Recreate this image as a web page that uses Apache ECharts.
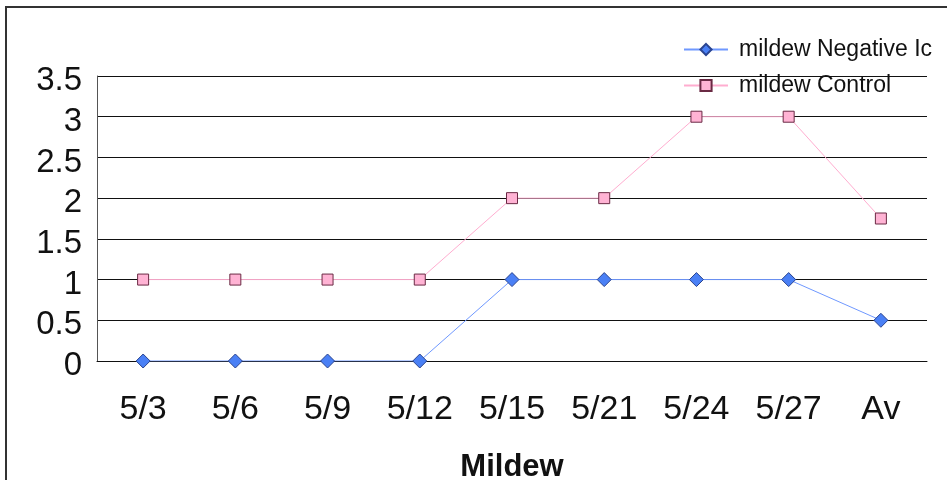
<!DOCTYPE html>
<html>
<head>
<meta charset="utf-8">
<script src="https://cdn.jsdelivr.net/npm/echarts@6/dist/echarts.min.js"></script>
<style>
html,body{margin:0;padding:0;background:#fff;}
#chart{width:947px;height:480px;}
</style>
</head>
<body>
<div id="chart"></div>
<script>
// Mildew scores per observation date
const categories = ['5/3', '5/6', '5/9', '5/12', '5/15', '5/21', '5/24', '5/27', 'Av'];
const negativeValues = [0, 0, 0, 0, 1, 1, 1, 1, 0.5];
const controlValues = [1, 1, 1, 1, 2, 2, 3, 3, 1.75];
const yTicks = [0, 0.5, 1, 1.5, 2, 2.5, 3, 3.5];
const seriesNames = ['mildew Negative Ic', 'mildew Control'];

const FONT = '"Liberation Sans", Arial, sans-serif';
const chart = echarts.init(document.getElementById('chart'), null, { renderer: 'canvas' });

chart.setOption({
  animation: false,
  backgroundColor: '#fff',
  graphic: [{
    type: 'rect',
    shape: { x: 6, y: 7, width: 1000, height: 600 },
    style: { fill: 'none', stroke: '#333', lineWidth: 2 },
    silent: true,
    z: 0
  }],
  grid: { left: 97, right: 20, top: 76, bottom: 119, containLabel: false, outerBoundsMode: 'none' },
  legend: {
    orient: 'vertical',
    left: 678,
    top: 33,
    itemGap: 13,
    itemWidth: 44,
    itemHeight: 14,
    textStyle: { fontFamily: FONT, fontSize: 23, color: '#111', padding: [0, 0, 0, 6] },
    data: seriesNames
  },
  xAxis: {
    type: 'category',
    data: categories,
    boundaryGap: true,
    name: 'Mildew',
    nameLocation: 'middle',
    nameGap: 91,
    nameTextStyle: { fontFamily: FONT, fontSize: 31, fontWeight: 'bold', color: '#111' },
    axisLine: { lineStyle: { color: '#111', width: 1 } },
    axisTick: { inside: true, length: 9, lineStyle: { color: '#333' } },
    axisLabel: { fontFamily: FONT, fontSize: 34, color: '#111', margin: 32 }
  },
  yAxis: {
    type: 'value',
    min: 0,
    max: 3.5,
    interval: 0.5,
    axisLine: { show: true, lineStyle: { color: '#555', width: 1 } },
    axisTick: { show: false },
    splitLine: { lineStyle: { color: '#111', width: 1 } },
    axisLabel: {
      color: '#111', margin: 15,
      formatter: v => yTicks.includes(v) ? '{t|' + v + '}' : '',
      rich: {
        t: { fontFamily: FONT, fontSize: 33, color: '#111', padding: [10, 0, 0, 0] }
      }
    }
  },
  series: [
    {
      name: seriesNames[0],
      type: 'line',
      data: negativeValues,
      symbol: 'diamond',
      symbolSize: 14,
      lineStyle: { color: '#6f98ff', width: 1 },
      itemStyle: { color: '#4a80f5', borderColor: '#2a4490', borderWidth: 1 },
      z: 3
    },
    {
      name: seriesNames[1],
      type: 'line',
      data: controlValues,
      symbol: 'rect',
      symbolSize: 11,
      lineStyle: { color: '#ffadd0', width: 1 },
      itemStyle: { color: '#ffb3d4', borderColor: '#6a2a44', borderWidth: 1 },
      z: 2
    }
  ]
});
</script>
</body>
</html>
